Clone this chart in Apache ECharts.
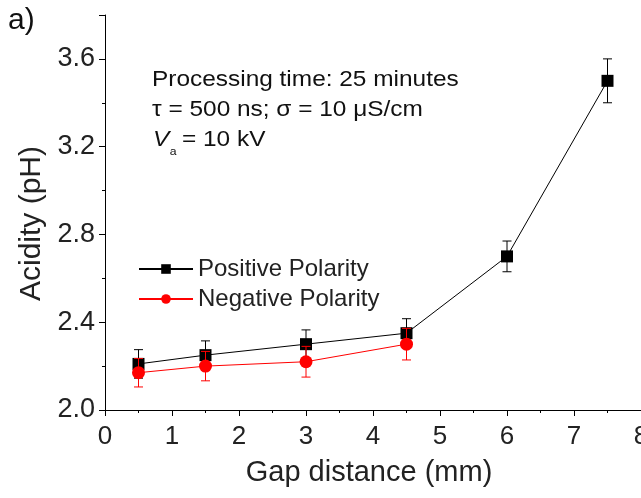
<!DOCTYPE html>
<html>
<head>
<meta charset="utf-8">
<script src="https://cdn.jsdelivr.net/npm/echarts@6/dist/echarts.min.js"></script>
<style>
  html, body { margin: 0; padding: 0; background: #fff; }
  #chart { width: 641px; height: 498px; }
</style>
</head>
<body>
<div id="chart"></div>
<script>
// Gap distance (mm) and measured pH, with standard deviations
const posGap = [0.5, 1.5, 3, 4.5, 6, 7.5];
const posPH  = [2.21, 2.25, 2.30, 2.35, 2.70, 3.50];
const posErr = [0.065, 0.065, 0.065, 0.066, 0.07, 0.10];

const negGap = [0.5, 1.5, 3, 4.5];
const negPH  = [2.17, 2.20, 2.22, 2.30];
const negErr = [0.065, 0.067, 0.07, 0.072];

const seriesNames = ['Positive Polarity', 'Negative Polarity'];

const FONT = '"Liberation Sans", Arial, sans-serif';

function points(xs, ys) { return xs.map((x, i) => [x, ys[i]]); }
function bars(xs, ys, es) { return xs.map((x, i) => [x, ys[i] - es[i], ys[i] + es[i]]); }

// Vertical error bar with caps, placed through the axis scales
function errorBar(color) {
  return function (params, api) {
    const x = api.value(0);
    const lo = api.coord([x, api.value(1)]);
    const hi = api.coord([x, api.value(2)]);
    const w = 4.5;
    const st = { stroke: color, lineWidth: 1 };
    return {
      type: 'group',
      children: [
        { type: 'line', shape: { x1: hi[0], y1: hi[1], x2: lo[0], y2: lo[1] }, style: st },
        { type: 'line', shape: { x1: hi[0] - w, y1: hi[1], x2: hi[0] + w, y2: hi[1] }, style: st },
        { type: 'line', shape: { x1: lo[0] - w, y1: lo[1], x2: lo[0] + w, y2: lo[1] }, style: st }
      ]
    };
  };
}

const chart = echarts.init(document.getElementById('chart'), null, { renderer: 'canvas' });

const noteFont = '22px ' + FONT;

chart.setOption({
  animation: false,
  backgroundColor: '#fff',
  textStyle: { fontFamily: FONT, color: '#000' },
  grid: { left: 105, right: 0, top: 15, bottom: 88, containLabel: false, outerBoundsMode: 'none' },
  xAxis: {
    type: 'value',
    min: 0, max: 8, interval: 1,
    name: 'Gap distance (mm)',
    nameLocation: 'middle',
    nameGap: 48,
    nameTextStyle: { fontSize: 29, fontFamily: FONT, color: '#222', padding: [0, 8, 0, 0] },
    axisLine: { show: true, onZero: false, lineStyle: { color: '#000', width: 1 } },
    axisTick: { show: true, inside: false, length: 6, lineStyle: { color: '#000' } },
    minorTick: { show: true, splitNumber: 2, length: 3, lineStyle: { color: '#000' } },
    splitLine: { show: false },
    axisLabel: { fontSize: 26, color: '#222', margin: 14, fontFamily: FONT }
  },
  yAxis: {
    type: 'value',
    min: 2.0, max: 3.8, interval: 0.4,
    name: 'Acidity (pH)',
    nameLocation: 'middle',
    nameGap: 51,
    nameRotate: 90,
    nameTextStyle: { fontSize: 30, fontFamily: FONT, color: '#222', padding: [0, 22, 0, 0] },
    axisLine: { show: true, onZero: false, lineStyle: { color: '#000', width: 1 } },
    axisTick: { show: true, inside: false, length: 6, lineStyle: { color: '#000' } },
    minorTick: { show: true, splitNumber: 2, length: 3, lineStyle: { color: '#000' } },
    splitLine: { show: false },
    axisLabel: {
      fontSize: 27, color: '#222', margin: 10, fontFamily: FONT,
      showMaxLabel: false,
      formatter: v => v.toFixed(1)
    }
  },
  legend: {
    orient: 'vertical',
    left: 133, top: 252,
    itemWidth: 54, itemHeight: 12,
    itemGap: 6,
    data: seriesNames,
    textStyle: { fontSize: 24, color: '#222', fontFamily: FONT }
  },
  graphic: [
    { type: 'text', left: 8, top: 6, style: { text: 'a)', font: '30px ' + FONT, fill: '#111' } },
    {
      type: 'group', x: 152, y: 0, scaleX: 1.11,
      children: [
        { type: 'text', x: 0, y: 80, style: { text: 'Processing time: 25 minutes', font: noteFont, fill: '#111', verticalAlign: 'middle' } },
        { type: 'text', x: 0, y: 110, style: { text: '\u03c4 = 500 ns; \u03c3 = 10 \u03bcS/cm', font: noteFont, fill: '#111', verticalAlign: 'middle' } },
        { type: 'text', x: 1, y: 140, style: { text: 'V', font: 'italic ' + noteFont, fill: '#111', verticalAlign: 'middle' } },
        { type: 'text', x: 16, y: 152, style: { text: 'a', font: '11px ' + FONT, fill: '#111', verticalAlign: 'middle' } },
        { type: 'text', x: 27, y: 140, style: { text: '= 10 kV', font: noteFont, fill: '#111', verticalAlign: 'middle' } }
      ]
    }
  ],
  series: [
    {
      name: 'posErr',
      type: 'custom',
      renderItem: errorBar('#000'),
      data: bars(posGap, posPH, posErr),
      encode: { x: 0, y: [1, 2] },
      z: 2
    },
    {
      name: seriesNames[0],
      type: 'line',
      data: points(posGap, posPH),
      symbol: 'rect',
      symbolSize: 12,
      lineStyle: { color: '#000', width: 1 },
      itemStyle: { color: '#000' },
      z: 3
    },
    {
      name: 'negErr',
      type: 'custom',
      renderItem: errorBar('#ff0000'),
      data: bars(negGap, negPH, negErr),
      encode: { x: 0, y: [1, 2] },
      z: 4
    },
    {
      name: seriesNames[1],
      type: 'line',
      data: points(negGap, negPH),
      symbol: 'circle',
      symbolSize: 13,
      lineStyle: { color: '#ff0000', width: 1 },
      itemStyle: { color: '#ff0000' },
      z: 5
    }
  ]
});
</script>
</body>
</html>
